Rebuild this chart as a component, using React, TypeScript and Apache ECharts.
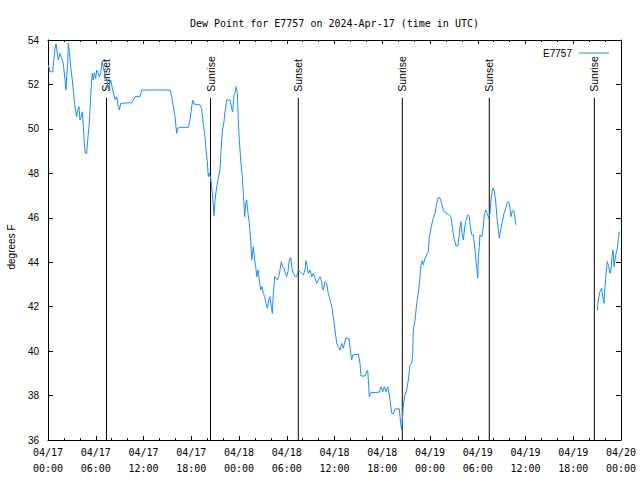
import React, { useEffect, useRef } from 'react';
import * as echarts from 'echarts';

const chartTitle = 'Dew Point for E7757 on 2024-Apr-17 (time in UTC)';
const seriesName = 'E7757';
const yAxisName = 'degrees F';
const xTickLabels = [
  '04/17\n00:00', '04/17\n06:00', '04/17\n12:00', '04/17\n18:00',
  '04/18\n00:00', '04/18\n06:00', '04/18\n12:00', '04/18\n18:00',
  '04/19\n00:00', '04/19\n06:00', '04/19\n12:00', '04/19\n18:00',
  '04/20\n00:00',
];

// hours since 2024-04-17 00:00 UTC
const hours1 = [0.04,0.25,0.59,0.75,0.88,1.01,1.17,1.29,1.51,1.72,1.92,2.14,2.26,2.35,2.48,2.55,2.68,2.85,3.05,3.18,3.30,3.43,3.61,3.73,3.90,4.02,4.18,4.31,4.44,4.56,4.69,4.86,4.99,5.15,5.28,5.40,5.57,5.69,5.82,5.99,6.12,6.28,6.45,6.62,6.79,6.95,7.12,7.38,7.58,7.88,8.13,8.29,8.46,8.63,8.83,8.96,9.14,10.52,10.72,10.93,11.56,11.77,15.33,15.54,15.75,15.96,16.17,16.30,16.50,17.63,17.84,18.06,18.18,18.35,19.10,19.31,19.51,19.73,19.85,20.02,20.14,20.27,20.44,20.65,20.86,20.99,21.20,21.40,21.61,21.74,21.90,22.12,22.24,22.46,22.87,23.08,23.21,23.37,23.54,23.66,23.79,23.91,24.04,24.21,24.42,24.54,24.72,24.84,24.97,25.13,25.30,25.47,25.60,25.80,25.97,26.10,26.23,26.39,26.55,26.73,26.89,27.05,27.23,27.39,27.56,27.73,27.90,28.06,28.19,28.31,28.49,28.81,28.99,29.15,29.32,29.49,29.66,29.82,29.99,30.16,30.32,30.50,30.66,30.82,31.04,31.25,31.45,31.67,31.88,32.08,32.29,32.42,32.58,32.71,32.92,33.14,33.34,33.55,33.76,33.97,34.18,34.39,34.47,34.59,34.81,35.02,35.22,35.44,35.65,35.85,36.06,36.28,36.48,36.69,36.91,37.11,37.41,37.82,38.04,38.16,38.29,38.99,39.21,39.33,39.83,40.05,40.17,40.30,40.37,40.55,41.63,41.84,42.06,42.26,42.47,42.69,42.85,42.98,43.19,43.39,43.60,44.14,44.32,44.44,44.65,44.86,45.07,45.27,45.49,45.70,45.83,45.90,46.12,46.33,46.53,46.75,46.87,47.03,47.16,47.37,47.59,47.79,47.91,48.09,48.25,48.42,48.63,48.84,49.05,49.26,49.47,49.67,49.89,50.30,50.64,50.85,51.06,51.27,51.48,51.65,51.77,51.90,52.02,52.19,52.31,52.53,52.74,52.94,53.03,53.24,53.44,53.66,53.78,53.91,54.00,54.07,54.20,54.28,54.50,54.70,54.82,55.00,55.20,55.38,55.54,55.63,55.76,55.92,56.08,56.26,56.42,56.59,56.71,56.89,57.09,57.30,57.52,57.72,57.93,58.05,58.18,58.34,58.52,58.64,58.77];
const dew1 = [52.87,52.57,52.57,53.17,53.6,53.82,53.4,53.1,53.4,53.18,52.95,52.2,51.75,52.4,52.95,53.85,53.47,52.8,52.2,51.75,51.3,50.9,50.55,50.85,51.0,50.4,50.55,50.77,50.1,49.35,48.9,48.9,49.5,50.1,50.9,51.75,52.5,52.2,52.53,52.27,52.65,52.53,52.35,52.5,53.03,52.8,52.5,52.2,51.8,52.2,51.75,51.5,51.3,51.45,51.0,50.85,51.15,51.18,51.3,51.45,51.45,51.75,51.75,51.45,51.0,50.55,49.8,50.03,50.07,50.07,50.4,51.0,51.3,51.12,51.08,50.9,50.25,49.65,49.05,48.53,47.85,48.0,47.78,47.1,46.1,46.8,47.4,47.78,48.15,49.05,49.87,50.35,50.77,51.3,51.3,50.93,50.77,51.52,51.67,51.9,51.6,50.4,49.5,48.6,47.85,47.1,46.05,46.65,46.8,46.2,45.75,45.0,44.1,44.7,44.1,43.8,43.35,43.65,43.2,42.75,42.9,42.6,42.45,42.15,41.93,42.3,42.45,42.0,41.7,42.6,43.35,43.2,43.35,43.65,44.03,43.8,43.73,43.5,43.35,43.58,44.1,44.22,43.73,43.5,43.35,43.35,43.65,43.58,43.5,43.43,43.65,44.07,43.8,43.5,43.65,43.35,43.5,43.28,43.05,43.2,43.35,43.13,42.82,42.75,43.13,43.05,42.6,42.3,42.0,41.55,40.95,40.35,40.2,40.05,40.35,40.13,40.58,40.58,39.9,39.6,39.83,39.87,39.45,38.88,38.88,39.07,39.15,38.4,37.95,38.13,38.15,38.4,38.17,38.4,38.17,38.4,38.1,37.8,37.2,37.17,37.4,37.4,36.75,36.45,37.58,38.03,38.25,38.7,39.38,39.45,39.9,40.95,41.4,42.15,42.6,43.35,43.88,44.07,43.88,44.18,44.33,44.48,45.15,45.45,45.75,45.98,46.2,46.65,46.92,46.88,46.65,46.35,46.23,46.16,46.05,45.45,45.0,44.73,44.73,45.15,45.6,45.83,45.3,45.0,45.45,45.9,46.13,46.05,45.68,45.23,45.23,44.55,44.03,43.65,43.28,44.25,44.7,45.23,45.15,45.6,46.13,46.35,46.2,45.98,46.2,46.65,47.1,47.33,47.18,46.72,45.98,45.45,45.08,45.45,45.83,46.2,46.43,46.7,46.7,46.43,46.05,46.28,46.35,46.13,45.68];
const gapHour = 64;
const hours2 = [69.02,69.15,69.36,69.57,69.70,69.86,69.99,70.12,70.28,70.46,70.62,70.75,70.87,71.00,71.13,71.25,71.38,71.54,71.67,71.79];
const dew2 = [41.82,42.3,42.68,42.83,42.45,42.15,42.9,43.5,44.03,43.8,43.5,43.65,44.25,44.55,43.8,44.1,44.4,44.63,45.08,45.38];

const sunsetHours = [7.35, 31.45, 55.45];
const sunriseHours = [20.42, 44.52, 68.65];
const sunLabels = ['Sunset', 'Sunrise'];
const sunLineTop = 51.4;

const MONO = '"DejaVu Sans Mono", monospace';
const SANS = '"Liberation Sans", Arial, sans-serif';
const LINE_COLOR = '#1a8cff';

function zip(h: number[], v: number[]) {
  const n = Math.min(h.length, v.length);
  const out: any[] = [];
  for (let i = 0; i < n; i++) out.push([h[i], v[i]]);
  return out;
}

export default function App() {
  const ref = useRef<HTMLDivElement>(null);
  useEffect(() => {
    if (!ref.current) return;
    const chart = echarts.init(ref.current, null, { renderer: 'svg' });
    const lineData = [...zip(hours1, dew1), [gapHour, '-'], ...zip(hours2, dew2)];
    const sunData: any[] = [];
    sunsetHours.forEach((t) => sunData.push([t, sunLineTop, 0]));
    sunriseHours.forEach((t) => sunData.push([t, sunLineTop, 1]));

    const xCommon = {
      type: 'value',
      min: 0,
      max: 72,
      interval: 6,
      splitLine: { show: false },
      axisLine: { show: true, onZero: false, lineStyle: { color: '#000', width: 1 } },
      axisTick: { show: true, inside: true, length: 4, lineStyle: { color: '#000' } },
      minorTick: { show: true, splitNumber: 3, length: 2, lineStyle: { color: '#000' } },
    };
    const yCommon = {
      type: 'value',
      min: 36,
      max: 54,
      interval: 2,
      splitLine: { show: false },
      axisLine: { show: true, onZero: false, lineStyle: { color: '#000', width: 1 } },
      axisTick: { show: true, inside: true, length: 5, lineStyle: { color: '#000' } },
    };

    chart.setOption({
      animation: false,
      backgroundColor: '#fff',
      title: {
        text: chartTitle,
        left: 185,
        top: 13,
        textStyle: { fontFamily: MONO, fontSize: 10, fontWeight: 'normal', color: '#000' },
      },
      legend: {
        data: [{ name: seriesName, icon: 'rect' }],
        right: 26,
        top: 43,
        align: 'right',
        itemWidth: 30,
        itemHeight: 1,
        itemStyle: { color: LINE_COLOR, borderWidth: 0 },
        textStyle: { fontFamily: SANS, fontSize: 10, color: '#000', padding: [0, 2, 0, 0] },
      },
      grid: { left: 48, right: 19, top: 40, bottom: 40, containLabel: false },
      xAxis: [
        {
          ...xCommon,
          position: 'bottom',
          axisLabel: {
            show: true,
            margin: 4,
            fontFamily: MONO,
            fontSize: 10,
            lineHeight: 16,
            color: '#000',
            formatter: (v: number) => xTickLabels[Math.round(v / 6)] ?? '',
          },
        },
        { ...xCommon, position: 'top', axisLabel: { show: false } },
      ],
      yAxis: [
        {
          ...yCommon,
          position: 'left',
          axisLabel: { show: true, margin: 9, fontFamily: SANS, fontSize: 10, color: '#000' },
        },
        { ...yCommon, position: 'right', axisLabel: { show: false } },
      ],
      graphic: [
        {
          type: 'text',
          x: 11,
          y: 247,
          rotation: Math.PI / 2,
          style: {
            text: yAxisName,
            fontFamily: SANS,
            fontSize: 10,
            fill: '#000',
            align: 'center',
            verticalAlign: 'middle',
          },
        },
      ],
      series: [
        {
          name: 'sun',
          type: 'custom',
          xAxisIndex: 0,
          yAxisIndex: 0,
          silent: true,
          z: 3,
          data: sunData,
          renderItem: (params: any, api: any) => {
            const t = api.value(0);
            const top = api.value(1);
            const kind = api.value(2);
            const p0 = api.coord([t, 36]);
            const p1 = api.coord([t, top]);
            return {
              type: 'group',
              children: [
                {
                  type: 'line',
                  shape: { x1: p0[0], y1: p0[1], x2: p1[0], y2: p1[1] },
                  style: { stroke: '#000', lineWidth: 1 },
                },
                {
                  type: 'text',
                  x: p1[0],
                  y: p1[1] - 6,
                  rotation: Math.PI / 2,
                  style: {
                    text: sunLabels[kind],
                    fontFamily: SANS,
                    fontSize: 10.5,
                    fill: '#000',
                    align: 'left',
                    verticalAlign: 'middle',
                  },
                },
              ],
            };
          },
        },
        {
          name: seriesName,
          type: 'line',
          xAxisIndex: 0,
          yAxisIndex: 0,
          data: lineData,
          symbol: 'none',
          showSymbol: false,
          connectNulls: false,
          color: LINE_COLOR,
          lineStyle: { color: LINE_COLOR, width: 1 },
          z: 4,
        },
      ],
    });
    return () => chart.dispose();
  }, []);
  return <div ref={ref} style={{ width: 640, height: 480, position: 'absolute', left: 0, top: 0 }} />;
}
